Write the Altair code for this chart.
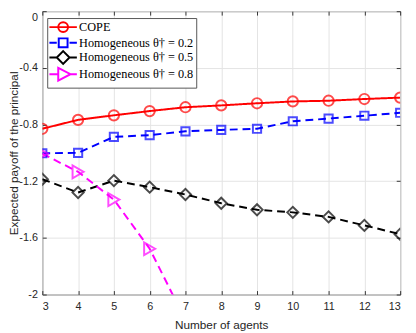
import altair as alt
import pandas as pd

agents = [3, 4, 5, 6, 7, 8, 9, 10, 11, 12, 13]
cope = [-0.830, -0.767, -0.735, -0.705, -0.678, -0.665, -0.650, -0.637, -0.632, -0.620, -0.610]
homo_02 = [-1.003, -1.000, -0.887, -0.875, -0.848, -0.838, -0.830, -0.777, -0.758, -0.738, -0.717]
homo_05 = [-1.186, -1.280, -1.196, -1.242, -1.294, -1.356, -1.402, -1.420, -1.452, -1.512, -1.574]
agents_08 = [3, 4, 5, 6, 7]
homo_08 = [-1.006, -1.134, -1.330, -1.677, -2.180]

series_names = ["COPE", "Homogeneous θ† = 0.2", "Homogeneous θ† = 0.5", "Homogeneous θ† = 0.8"]
series_colors = ["#ff0000", "#0000ff", "#000000", "#ff00ff"]
series_dash = [[1, 0], [8, 5], [8, 5], [8, 5]]
y_ticks = [-2, -1.6, -1.2, -0.8, -0.4, 0]

rows = []
for name, xs, ys in [
    (series_names[0], agents, cope),
    (series_names[1], agents, homo_02),
    (series_names[2], agents, homo_05),
    (series_names[3], agents_08, homo_08),
]:
    for a, v in zip(xs, ys):
        rows.append({"agents": a, "payoff": v, "series": name})
df = pd.DataFrame(rows)

x_scale = alt.Scale(domain=[3, 13], nice=False, zero=False)
y_scale = alt.Scale(domain=[-2, 0], nice=False, zero=False)
color_scale = alt.Scale(domain=series_names, range=series_colors)

label_font = "Liberation Sans"
serif_font = "Liberation Serif"
label_color = "#262626"
PLOT_W = 365
PLOT_H = 289

x_none = alt.X("agents:Q", scale=x_scale, axis=None)
y_none = alt.Y("payoff:Q", scale=y_scale, axis=None)

x_main = alt.X(
    "agents:Q", scale=x_scale,
    axis=alt.Axis(orient="bottom", values=agents, grid=True, gridColor="#e3e3e3",
                  domain=False, ticks=True, tickSize=4, tickColor="#333333", offset=-4,
                  labelPadding=6, labelFont=label_font, labelFontSize=11, labelColor=label_color,
                  title="Number of agents", titleFont=label_font, titleFontSize=12,
                  titleFontWeight="normal", titleColor=label_color, titlePadding=9),
)
y_main = alt.Y(
    "payoff:Q", scale=y_scale,
    axis=alt.Axis(orient="left", values=y_ticks, grid=True, gridColor="#e3e3e3",
                  domain=False, ticks=True, tickSize=4, tickColor="#333333", offset=-4,
                  labelPadding=5, labelFont=label_font, labelFontSize=11, labelColor=label_color,
                  labelExpr="'' + datum.value",
                  labelBaseline={"condition": {"test": "datum.value == 0", "value": "top"}, "value": "middle"},
                  title="Expected payoff of the principal", titleFont=label_font, titleFontSize=12,
                  titleFontWeight="normal", titleColor=label_color,
                  titleX=-33, titleY=PLOT_H / 2, titleAngle=270, titleAlign="center",
                  titleBaseline="middle"),
)

base = alt.Chart(df)

grid_layer = base.mark_point(opacity=0).encode(x=x_main, y=y_main)

mirror_layer = base.mark_point(opacity=0).encode(
    x=alt.X("agents:Q", scale=x_scale,
            axis=alt.Axis(orient="top", values=agents, grid=False, domain=False, labels=False,
                          ticks=True, tickSize=4, tickColor="#333333", offset=-4, title=None)),
    y=alt.Y("payoff:Q", scale=y_scale,
            axis=alt.Axis(orient="right", values=y_ticks, grid=False, domain=False, labels=False,
                          ticks=True, tickSize=4, tickColor="#333333", offset=-4, title=None)),
)

line_layers = []
for name, col, dash in zip(series_names, series_colors, series_dash):
    line_layers.append(
        base.transform_filter(alt.datum.series == name)
        .mark_line(strokeWidth=2, clip=True, color=col, strokeDash=dash)
        .encode(x=x_none, y=y_none)
    )

marker_specs = [("circle", 110), ("square", 70), ("diamond", 130), ("triangle-right", 170)]
point_layers = []
for name, col, (shp, sz) in zip(series_names, series_colors, marker_specs):
    point_layers.append(
        base.transform_filter(alt.datum.series == name)
        .mark_point(shape=shp, size=sz, strokeWidth=2, filled=False, clip=True, color=col)
        .encode(x=x_none, y=y_none)
    )

legend_paths = [
    "M-2.8,0L2.8,0M1,0A1,1,0,1,1,-1,0A1,1,0,1,1,1,0",
    "M-2.8,0L-1.3,0M1.3,0L2.8,0M-0.9,-0.9L0.9,-0.9L0.9,0.9L-0.9,0.9Z",
    "M-2.8,0L-1.3,0M1.3,0L2.8,0M0,-1.3L1.3,0L0,1.3L-1.3,0Z",
    "M-2.8,0L-1,0M1.5,0L2.8,0M-1,-1.3L1.5,0L-1,1.3Z",
]

legend_props = dict(title=None, orient="none", legendX=5, legendY=7,
                    fillColor="white", strokeColor="#555555", padding=3,
                    symbolSize=100, symbolStrokeWidth=2, symbolOpacity=1,
                    symbolOffset=7, labelOffset=10, rowPadding=-5.3,
                    labelFont=serif_font, labelFontSize=12.5,
                    labelColor="black", labelLimit=300)

legend_layer = base.mark_point(opacity=0, filled=False, strokeWidth=2).encode(
    x=x_none, y=y_none,
    color=alt.Color("series:N", scale=color_scale, legend=alt.Legend(**legend_props)),
    shape=alt.Shape("series:N", scale=alt.Scale(domain=series_names, range=legend_paths),
                    legend=alt.Legend(**legend_props)),
)

chart = alt.layer(grid_layer, mirror_layer, *line_layers, *point_layers, legend_layer).resolve_axis(
    x="independent", y="independent"
).properties(
    width=PLOT_W, height=PLOT_H,
    padding={"left": 35, "top": 0, "right": 8, "bottom": 36},
    autosize=alt.AutoSizeParams(type="none"),
).configure_view(
    stroke="#444444", strokeWidth=1
).configure_legend(
    labelFont=serif_font, labelFontSize=12.5, labelColor="black"
)

chart.save("out.html", embed_options={"renderer": "svg", "actions": False})
